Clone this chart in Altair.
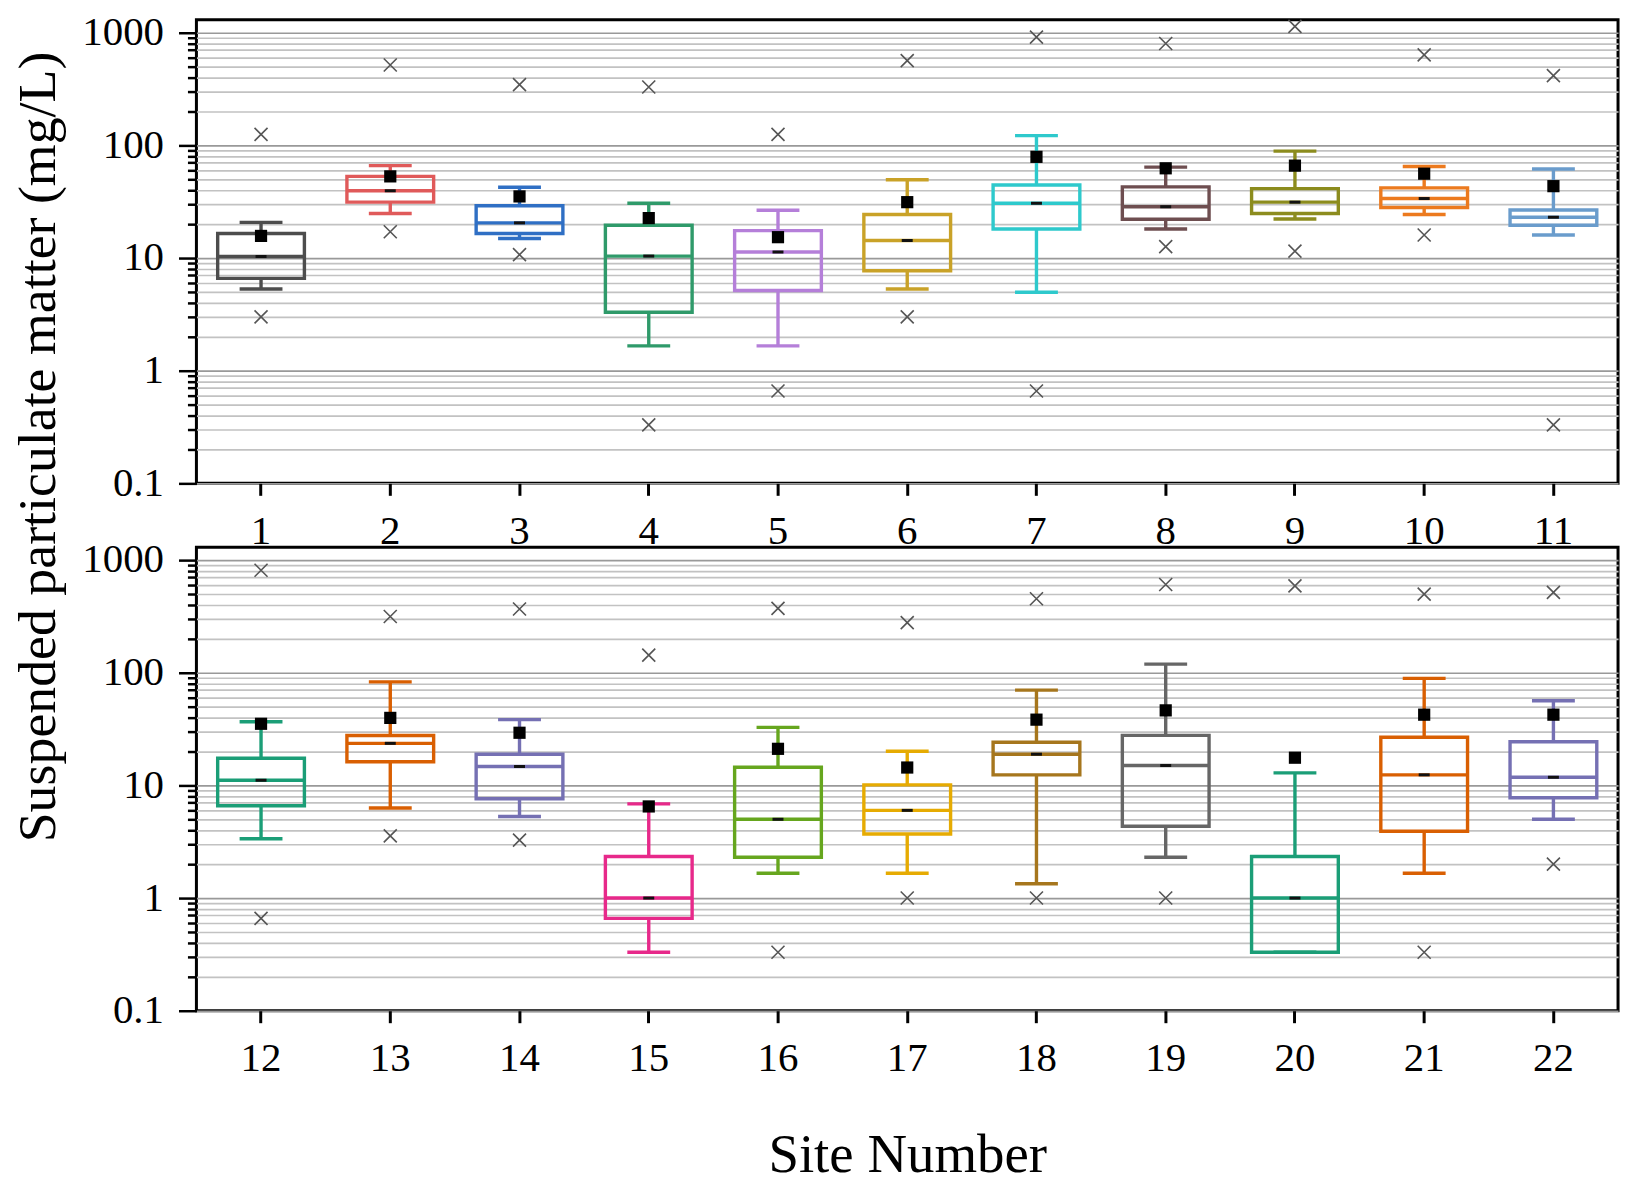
import altair as alt
import pandas as pd

# ---- data (mg/L) ----
sites = [str(i) for i in range(1, 23)]
panel = ["top"] * 11 + ["bottom"] * 11
q1 = [6.6, 31.3, 16.5, 3.3, 5.15, 7.7, 18.1, 22.1, 24.8, 28.1, 19.5,
      6.6, 16.2, 7.6, 0.66, 2.3, 3.7, 12.4, 4.34, 0.33, 3.92, 7.76]
median = [10.3, 39.5, 20.5, 10.4, 11.3, 14.3, 30.6, 28.5, 31.3, 33.7, 23.0,
          11.1, 23.6, 14.7, 1.0, 5.0, 6.0, 18.9, 15.0, 1.0, 12.4, 11.8]
q3 = [16.5, 53.0, 29.1, 19.5, 17.5, 24.3, 44.4, 42.8, 41.3, 41.9, 26.7,
      17.4, 27.7, 18.9, 2.34, 14.5, 10.1, 24.1, 27.8, 2.34, 26.7, 24.4]
whisk_lo = [5.3, 24.8, 14.9, 1.66, 1.66, 5.3, 4.96, 18.1, 22.2, 24.3, 16.0,
            3.36, 6.3, 5.3, 0.33, 1.66, 1.66, 1.34, 2.3, 0.33, 1.66, 5.0]
whisk_hi = [20.7, 66.0, 42.5, 30.6, 26.5, 49.5, 122.0, 64.0, 88.7, 64.9, 61.6,
            36.7, 82.8, 38.3, 6.85, 32.7, 20.1, 70.0, 119.0, 12.9, 89.0, 56.3]
mean = [15.7, 53.0, 35.2, 22.6, 15.3, 31.3, 79.0, 62.5, 66.0, 56.0, 43.4,
        35.2, 39.7, 29.3, 6.5, 21.1, 14.4, 38.3, 46.3, 17.6, 42.4, 42.4]
max_val = [125, 516, 346, 329, 125, 564, 912, 800, 1135, 634, 415,
           811, 315, 367, 143, 372, 278, 453, 606, 589, 498, 516]
min_val = [3.0, 17.1, 10.7, 0.33, 0.66, 3.0, 0.66, 12.6, 11.5, 16.0, 0.33,
           0.66, 3.56, 3.27, None, 0.33, 1.0, 1.0, 1.0, None, 0.33, 2.0]
colors = ["#4d4d4d", "#e05a5a", "#2f6fc4", "#2f9a6a", "#b57fd9", "#c9a228",
          "#2ec9cc", "#6e4e50", "#8c8c1e", "#ec7a1e", "#6a9ccc",
          "#1b9e77", "#d95f02", "#7570b3", "#e7298a", "#66a61e", "#e6ab02",
          "#a6761d", "#666666", "#1b9e77", "#d95f02", "#7570b3"]

df = pd.DataFrame({
    "site": sites, "panel": panel, "q1": q1, "median": median, "q3": q3,
    "wlo": whisk_lo, "whi": whisk_hi, "mean": mean,
    "max": max_val, "min": min_val,
})

FONT = "Liberation Serif"
decade_test = "indexof([0.1,1,10,100,1000], datum.value) >= 0"
tick_values = []
for d in [0.1, 1, 10, 100]:
    for m in range(1, 10):
        tick_values.append(round(m * d, 6))
tick_values.append(1000)

yscale = alt.Scale(type="log", domain=[0.1, 1300])
cscale = alt.Scale(domain=sites, range=colors)

BOX_W = 87
CAP_W = 43
LW = 3.4


def make_yaxis(show_title):
    kw = dict(
        values=tick_values,
        labelExpr=decade_test + " ? format(datum.value, '~g') : ''",
        grid=True,
        gridColor={"condition": {"test": decade_test, "value": "#999999"}, "value": "#c2c2c2"},
        gridWidth=1.7,
        tickSize={"condition": {"test": decade_test, "value": 18}, "value": 9},
        tickWidth=2.5,
        tickColor="black",
        domain=False,
        labelFont=FONT,
        labelFontSize=41,
        labelColor="black",
        labelPadding=15,
        labelOverlap=False,
    )
    if show_title:
        kw.update(
            title="Suspended particulate matter (mg/L)",
            titleFont=FONT, titleFontSize=54, titleFontWeight="normal",
            titleColor="black", titleAngle=270, titleAlign="center",
            titleBaseline="middle", titleX=-158, titleY=428,
        )
    else:
        kw.update(title=None)
    return alt.Axis(**kw)


def make_xaxis(show_title):
    kw = dict(
        labelAngle=0, labelFont=FONT, labelFontSize=41, labelColor="black",
        labelPadding=16, tickSize=12, tickWidth=3, tickColor="black",
        domain=False, grid=False,
    )
    if show_title:
        kw.update(title="Site Number", titleFont=FONT, titleFontSize=55,
                  titleFontWeight="normal", titleColor="black", titlePadding=50)
    else:
        kw.update(title=None)
    return alt.Axis(**kw)


def panel_chart(name, site_list, show_x_title, show_y_title):
    base = alt.Chart(df).transform_filter(alt.datum.panel == name)
    X = alt.X("site:N", sort=site_list,
              scale=alt.Scale(type="band", paddingInner=0, paddingOuter=0),
              axis=make_xaxis(show_x_title))
    yax = make_yaxis(show_y_title)

    def Y(f):
        return alt.Y(f + ":Q", scale=yscale, axis=yax)

    col = alt.Color("site:N", scale=cscale, legend=None)
    stroke = alt.Stroke("site:N", scale=cscale, legend=None)

    lower = base.mark_rule(strokeWidth=LW).encode(x=X, y=Y("wlo"), y2="q1:Q", color=col)
    upper = base.mark_rule(strokeWidth=LW).encode(x=X, y=Y("q3"), y2="whi:Q", color=col)
    cap_lo = base.mark_tick(size=CAP_W, thickness=LW, opacity=1).encode(x=X, y=Y("wlo"), color=col)
    cap_hi = base.mark_tick(size=CAP_W, thickness=LW, opacity=1).encode(x=X, y=Y("whi"), color=col)
    box = base.mark_bar(width=BOX_W, fill="transparent", strokeWidth=LW).encode(
        x=X, y=Y("q1"), y2="q3:Q", stroke=stroke)
    med = base.mark_tick(size=BOX_W, thickness=LW, opacity=1).encode(x=X, y=Y("median"), color=col)
    med_dot = base.mark_tick(size=11, thickness=3, opacity=1, color="#111111").encode(x=X, y=Y("median"))
    mean_pt = base.mark_square(size=150, color="black", opacity=1).encode(x=X, y=Y("mean"))
    xshape = "M-1,-1L1,1M1,-1L-1,1"
    hi_pt = base.mark_point(shape=xshape, size=170, color="#555555", strokeWidth=1.6,
                            filled=False, opacity=1).encode(x=X, y=Y("max"))
    lo_pt = base.transform_filter("isValid(datum.min)").mark_point(
        shape=xshape, size=170, color="#555555", strokeWidth=1.6,
        filled=False, opacity=1).encode(x=X, y=Y("min"))

    return alt.layer(lower, upper, cap_lo, cap_hi, box, med, med_dot, mean_pt,
                     hi_pt, lo_pt).properties(width=1426, height=465)


top = panel_chart("top", sites[:11], False, True)
bottom = panel_chart("bottom", sites[11:], True, False)

chart = alt.vconcat(top, bottom, spacing=64, bounds="flush").resolve_scale(
    x="independent"
).properties(
    padding={"left": 2, "top": 0, "right": 10, "bottom": 5}
).configure_view(stroke="black", strokeWidth=3)

chart.save("out.html", embed_options={"renderer": "svg", "actions": False})
